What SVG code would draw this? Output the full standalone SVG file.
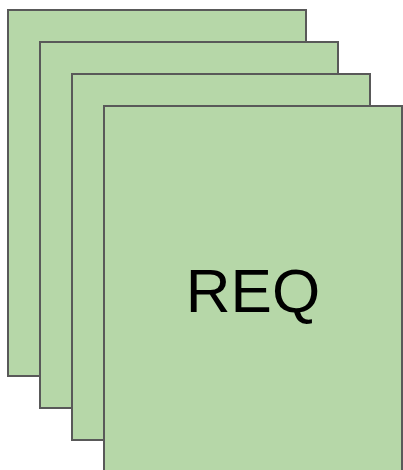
<svg xmlns="http://www.w3.org/2000/svg" width="403" height="470" viewBox="0 0 403 470">
<style>
.pg{fill:#b6d7a8;stroke:#595959;stroke-width:2}
.t{font-family:"Liberation Sans",Arial,sans-serif;font-size:62px;fill:#000}
</style>
<rect width="403" height="470" fill="#ffffff"/>
<g id="page1"><rect class="pg" x="8" y="10" width="298" height="366"/></g>
<g id="page2"><rect class="pg" x="40" y="42" width="298" height="366"/></g>
<g id="page3"><rect class="pg" x="72" y="74" width="298" height="366"/></g>
<g id="page4"><rect class="pg" x="104" y="106" width="298" height="366"/>
<text class="t" x="253" y="312" text-anchor="middle">REQ</text></g>
<g id="connectors"/>
</svg>
